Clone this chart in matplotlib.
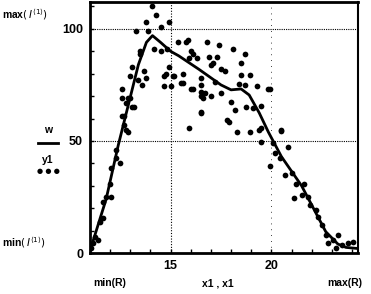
import matplotlib
matplotlib.use("Agg")
import matplotlib.pyplot as plt
from matplotlib.ticker import MultipleLocator

# fitted curve w
x_line = [11.0, 11.8, 12.4, 12.9, 13.4, 13.8, 14.1, 14.5, 15.0, 15.4, 16.4, 17.5,
          18.0, 18.5, 18.9, 19.4, 19.85, 20.5, 21.5, 22.7, 23.3, 23.7, 24.3]
w = [1, 24, 48, 66, 84, 94, 97, 94, 90, 88, 82, 75,
     72.8, 73.2, 70.5, 62.5, 54, 43, 30, 9.5, 4, 2.5, 2]

# measured points y1
x_pts = [14.06, 14.3, 13.8, 14.9, 14.5, 13.27, 13.9, 13.5, 14.2, 14.5, 14.8, 13.0,
         13.8, 13.56, 14.65, 15.0, 12.57, 13.0, 12.8, 13.2, 12.57, 12.7, 14.75, 15.15,
         15.74, 16.8, 17.4, 18.1, 18.7, 16.1, 15.9, 16.3, 16.9, 17.3, 17.1, 18.5,
         17.0, 17.5, 17.7, 15.6, 18.5, 18.96, 16.5, 15.5, 17.2, 16.0, 16.5, 16.7,
         17.5, 18.4, 18.7, 19.3, 16.6, 17.0, 18.0, 18.75, 19.5, 16.5, 18.2, 19.1,
         17.9, 15.9, 19.5, 19.85, 19.95, 20.5, 19.5, 20.84, 20.5, 18.3, 18.96, 19.4,
         16.0, 15.84, 15.35, 14.9, 15.1, 14.65, 15.6, 16.5, 16.1, 16.5, 16.5, 17.8,
         13.5, 13.1, 13.66, 13.37, 12.6, 12.9, 13.1, 12.67,
         20.1, 20.2, 20.45, 20.7, 21.0, 21.2, 21.6, 21.1, 21.5, 21.8, 21.9, 22.2,
         22.3, 22.5, 22.7, 23.3, 23.07, 22.8, 23.5, 23.8, 24.06, 23.2, 19.95,
         12.77, 12.9, 12.3, 12.27, 12.5, 12.06, 12.0, 11.8, 11.65, 12.06, 11.5, 11.65,
         11.25, 11.4, 11.15, 11.05]
y1 = [110, 106, 103, 103, 101, 99, 99, 90, 91, 90, 91, 79,
      78, 75, 74.5, 74.5, 69, 69, 67, 65, 61, 57, 80, 79,
      94, 94, 93, 91, 89, 89, 87, 87, 87.5, 87.5, 85, 85,
      84, 82, 81, 80, 79.5, 79.5, 78, 76, 76.5, 73, 72, 71.5,
      71.5, 75.5, 75, 74.5, 69, 70, 67.5, 65, 65.5, 62.5, 64, 64.7,
      58.5, 56, 56, 73, 73, 54.5, 49.5, 47.3, 55, 54, 54, 55,
      90, 95, 94, 83, 79, 79, 76, 75, 73, 70, 63, 59.5,
      89, 83, 81, 77, 73, 69, 65, 61,
      49, 44.6, 42.4, 35, 35.7, 31, 31, 24.5, 26, 25, 21.4, 19,
      16, 12.5, 8, 8, 5.8, 4.5, 3.6, 4.5, 5, 2.2, 39,
      55, 54, 46, 42.4, 40, 38, 31, 25, 22.8, 25, 14, 15.6,
      7, 5.8, 4.5, 2.2]

fig = plt.figure(figsize=(3.71, 2.94), dpi=100)
ax = fig.add_axes([90 / 371, 1 - 253 / 294, 268 / 371, 251 / 294])

ax.plot(x_line, w, color="black", lw=2)
ax.scatter(x_pts, y1, s=17, color="black", linewidths=0)

ax.set_xlim(11, 24.3)
ax.set_ylim(0, 112)

for v in [50, 100]:
    ax.axhline(v, color="black", lw=0.8, ls=(0, (1, 1)))
ax.axvline(15, color="black", lw=0.8, ls=(0, (1, 1.5)))
ax.axvline(20, color="black", lw=0.6, ls=(0, (1, 6)))

ax.set_xticks([15, 20])
ax.set_yticks([0, 50, 100])
ax.xaxis.set_minor_locator(MultipleLocator(1))
ax.yaxis.set_minor_locator(MultipleLocator(10))
ax.tick_params(which="both", direction="in", length=3, width=1, color="black")
ax.tick_params(which="major", labelsize=9, pad=5)
for lab in ax.get_xticklabels() + ax.get_yticklabels():
    lab.set_fontweight("bold")
    lab.set_family("Liberation Sans")

ax.spines["left"].set_linewidth(2)
ax.spines["bottom"].set_linewidth(2)
ax.spines["top"].set_linewidth(2)
ax.spines["right"].set_linewidth(1.5)
ax.spines["right"].set_linestyle((0, (1, 1)))

f = dict(fontsize=7.5, fontweight="bold", family="Liberation Sans")
fig.text(2 / 371, 1 - 15 / 294, r"max$\left(\,I^{\langle 1\rangle}\right)$", va="center", **f)
fig.text(2 / 371, 1 - 243 / 294, r"min$\left(\,I^{\langle 1\rangle}\right)$", va="center", **f)
fig.text(48 / 371, 1 - 130 / 294, "w", ha="center", va="center", **f)
fig.add_artist(plt.Line2D([38 / 371, 58 / 371], [1 - 143 / 294] * 2, color="black", lw=2))
fig.text(48 / 371, 1 - 160 / 294, "y1", ha="center", va="center", **f)
fig.text(48 / 371, 1 - 171 / 294, "\u25cf \u25cf \u25cf", ha="center", va="center", fontsize=5)
fig.text(110 / 371, 1 - 283 / 294, "min(R)", ha="center", va="center", **f)
fig.text(218 / 371, 1 - 283 / 294, "x1 , x1", ha="center", va="center", **f)
fig.text(345 / 371, 1 - 283 / 294, "max(R)", ha="center", va="center", **f)

fig.savefig("out.png", dpi=100)
